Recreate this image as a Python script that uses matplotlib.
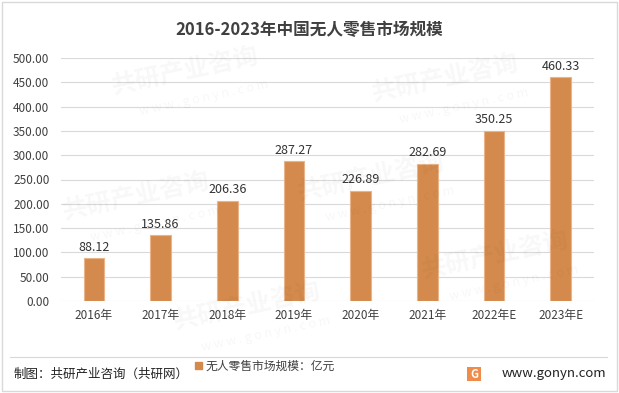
import matplotlib
matplotlib.use("Agg")
import matplotlib.pyplot as plt
from matplotlib.patches import Rectangle, Patch

plt.rcParams['font.family'] = ['Noto Sans CJK SC', 'DejaVu Sans']

categories = ["2016年", "2017年", "2018年", "2019年", "2020年", "2021年", "2022年E", "2023年E"]
values = [88.12, 135.86, 206.36, 287.27, 226.89, 282.69, 350.25, 460.33]
yticks = [0, 50, 100, 150, 200, 250, 300, 350, 400, 450, 500]
title = "2016-2023年中国无人零售市场规模"
legend_label = "无人零售市场规模：亿元"
source = "制图：共研产业咨询（共研网）"
site = "www.gonyn.com"

bar_color = "#D48A4C"
fig = plt.figure(figsize=(6.19, 3.93), dpi=100)
fig.patch.set_facecolor("white")

# faint watermarks (kept inside the figure)
for (wx, wy) in [(0.30, 0.82), (0.72, 0.80), (0.22, 0.50), (0.60, 0.55), (0.80, 0.35), (0.40, 0.22)]:
    fig.text(wx, wy, "共研产业咨询", fontsize=18, fontweight="bold", color="#000000",
             alpha=0.03, rotation=12, ha="center", va="center", zorder=0)
    fig.text(wx + 0.03, wy - 0.07, "w w w . g o n y n . c o m", fontsize=9, color="#000000",
             alpha=0.035, rotation=12, ha="center", va="center", zorder=0)

ax = fig.add_axes([60.5 / 619, 1 - 301 / 393, 533.5 / 619, 243 / 393])
ax.set_facecolor("none")
x = list(range(len(categories)))
ax.bar(x, values, width=0.31, color=bar_color, edgecolor="#E9B48A", linewidth=0.8, zorder=3)
for xi, v in zip(x, values):
    ax.text(xi, v + 9, f"{v:.2f}", ha="center", va="bottom", fontsize=9, color="#333333", zorder=4)

ax.set_xlim(-0.5, len(categories) - 0.5)
ax.set_ylim(0, 500)
ax.set_yticks(yticks)
ax.set_yticklabels([f"{t:.2f}" for t in yticks], fontsize=8.5, color="#404040")
ax.set_xticks(x)
ax.set_xticklabels(categories, fontsize=8.5, color="#404040")
ax.grid(axis="y", color="#D9D9D9", linewidth=0.8, zorder=0)
for s in ax.spines.values():
    s.set_visible(False)
ax.tick_params(axis="both", length=0, pad=6)
ax.tick_params(axis="y", pad=8)

fig.text(0.5, 1 - 30 / 393, title, ha="center", va="center", fontsize=12, fontweight="bold", color="#404040")

leg = fig.legend(handles=[Patch(facecolor=bar_color, edgecolor=bar_color)], labels=[legend_label],
                 loc="center", bbox_to_anchor=(265 / 619, 1 - 366 / 393), frameon=False,
                 fontsize=8.5, handlelength=0.6, handleheight=0.6, handletextpad=0.3)
for t in leg.get_texts():
    t.set_color("#404040")

# footer separator
fig.add_artist(plt.Line2D([10 / 619, 607 / 619], [1 - 357 / 393, 1 - 357 / 393], color="#D9D9D9", linewidth=0.8))
fig.text(14 / 619, 1 - 374 / 393, source, ha="left", va="center", fontsize=9, color="#222222")
fig.text(606 / 619, 1 - 374 / 393, site, ha="right", va="center", fontsize=9.5, color="#222222")
fig.add_artist(Rectangle((467 / 619, 1 - 381 / 393), 14 / 619, 14 / 393, transform=fig.transFigure,
                         facecolor="#F08C4A", edgecolor="none"))
fig.text(474 / 619, 1 - 374 / 393, "G", ha="center", va="center", fontsize=8, fontweight="bold", color="white")

# outer border
fig.add_artist(Rectangle((2 / 619, 2 / 393), 615 / 619, 389 / 393, transform=fig.transFigure,
                         fill=False, edgecolor="#D9D9D9", linewidth=1))

fig.savefig("out.png", dpi=100)
